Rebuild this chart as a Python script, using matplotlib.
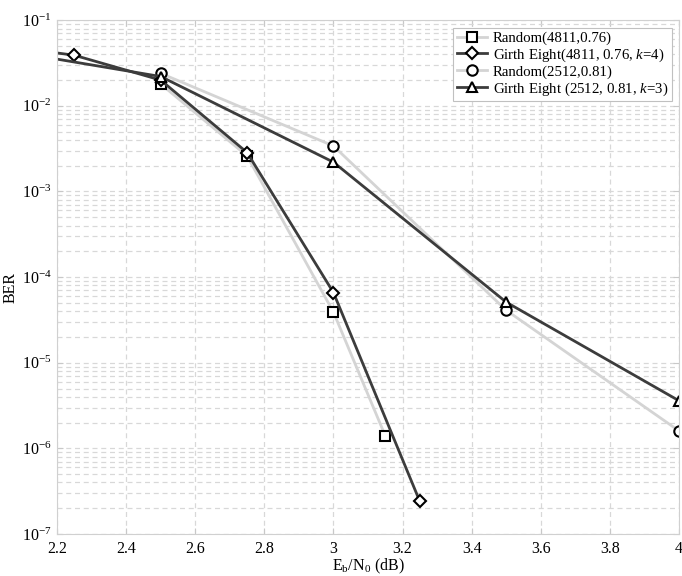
import math
import matplotlib
matplotlib.use("Agg")
import matplotlib.pyplot as plt
from matplotlib.ticker import FixedLocator, FuncFormatter, LogLocator, NullFormatter

plt.rcParams['font.family'] = ['Liberation Serif', 'DejaVu Serif']
plt.rcParams['mathtext.fontset'] = 'custom'
plt.rcParams['mathtext.rm'] = 'Liberation Serif'
plt.rcParams['mathtext.it'] = 'Liberation Serif:italic'

# Data
x_rand4811 = [2.5, 2.75, 3.0, 3.15]
y_rand4811 = [1.8e-2, 2.6e-3, 3.9e-5, 1.4e-6]

x_girth4811 = [2.0, 2.25, 2.5, 2.75, 3.0, 3.25]
y_girth4811 = [5.3e-2, 3.9e-2, 2.0e-2, 2.85e-3, 6.6e-5, 2.4e-7]

x_rand2512 = [2.5, 3.0, 3.5, 4.0]
y_rand2512 = [2.4e-2, 3.4e-3, 4.1e-5, 1.6e-6]

x_girth2512 = [2.0, 2.5, 3.0, 3.5, 4.0]
y_girth2512 = [4.8e-2, 2.2e-2, 2.2e-3, 5.1e-5, 3.6e-6]

labels = ['Random(4811,0.76)', 'Girth Eight(4811, 0.76, $\\mathit{k}$=4)',
          'Random(2512,0.81)', 'Girth Eight (2512, 0.81, $\\mathit{k}$=3)']

xticks = [2.2, 2.4, 2.6, 2.8, 3.0, 3.2, 3.4, 3.6, 3.8, 4.0]
xtick_labels = ['2.2', '2.4', '2.6', '2.8', '3', '3.2', '3.4', '3.6', '3.8', '4']

fig = plt.figure(figsize=(6.82, 5.76), dpi=100)
ax = fig.add_axes([0.0836, 0.0729, 0.912, 0.892])

dark = '#3c3c3c'
light = '#d4d4d4'
mk = dict(markerfacecolor='white', markeredgecolor='black', markersize=7.5, markeredgewidth=1.5)

ax.plot(x_rand4811, y_rand4811, color=light, lw=2, marker='s', label=labels[0], **mk)
ax.plot(x_girth4811, y_girth4811, color=dark, lw=2, marker='D', label=labels[1],
        **{**mk, 'markersize': 6.5})
ax.plot(x_rand2512, y_rand2512, color=light, lw=2, marker='o', label=labels[2], **mk)
ax.plot(x_girth2512, y_girth2512, color=dark, lw=2, marker='^', label=labels[3], **mk)

ax.set_yscale('log')
ax.set_xlim(2.2, 4.0)
ax.set_ylim(1e-7, 1e-1)

ax.xaxis.set_major_locator(FixedLocator(xticks))
ax.set_xticklabels(xtick_labels)
ax.yaxis.set_major_locator(LogLocator(base=10, numticks=20))
ax.yaxis.set_minor_locator(LogLocator(base=10, subs=range(2, 10), numticks=20))
ax.yaxis.set_minor_formatter(NullFormatter())
ax.yaxis.set_major_formatter(FuncFormatter(lambda v, p: '$10^{%d}$' % round(math.log10(v))))

ax.grid(True, which='major', axis='both', color='#d8d8d8', linestyle=(0, (4, 3)), lw=0.9)
ax.grid(True, which='minor', axis='y', color='#d8d8d8', linestyle=(0, (4, 3)), lw=0.9)
ax.set_axisbelow(True)

for s in ax.spines.values():
    s.set_color('#d0d0d0')
ax.tick_params(which='both', direction='in', color='#c8c8c8')
ax.tick_params(axis='x', labelsize=11.5, pad=5)
ax.tick_params(axis='y', labelsize=11.5, pad=4)
ax.tick_params(which='minor', length=0)
ax.tick_params(which='major', length=4, top=True, right=True)

ax.set_xlabel('$\\mathrm{E_b/N_0}$ (dB)', fontsize=11.5, labelpad=0)
ax.set_ylabel('BER', fontsize=11.5)
ax.yaxis.set_label_coords(-0.062, 0.48)

leg = ax.legend(loc='upper right', fontsize=10.7, fancybox=False, framealpha=1,
                edgecolor='#c0c0c0', borderaxespad=0.5, handlelength=2.0,
                handletextpad=0.4, labelspacing=0.1, borderpad=0.25)
leg.get_frame().set_linewidth(0.8)

fig.savefig('out.png', dpi=100)
